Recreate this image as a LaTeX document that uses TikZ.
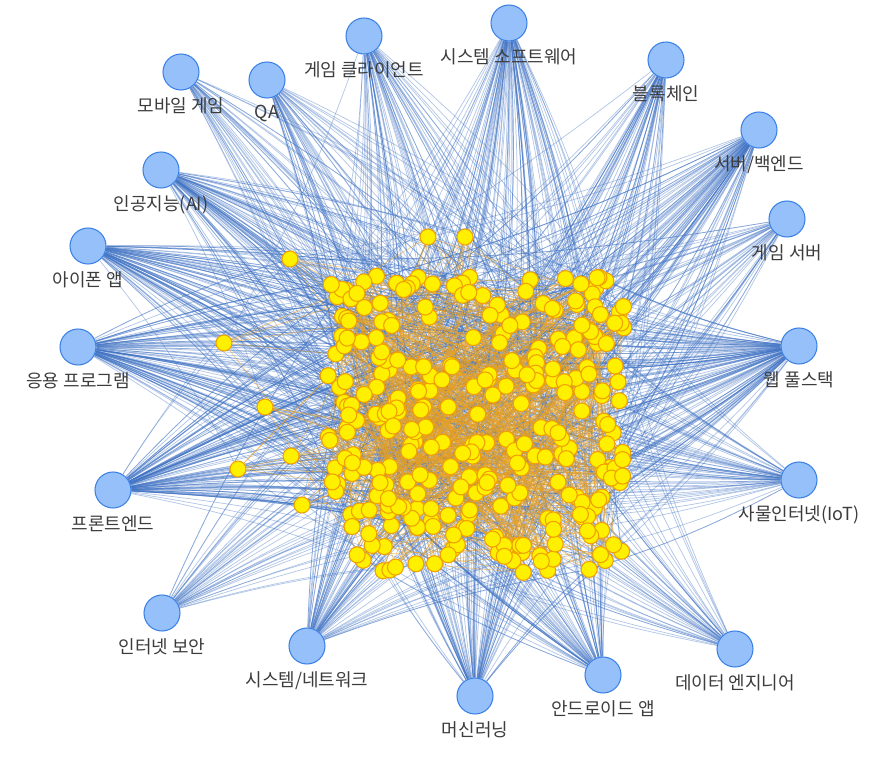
\documentclass[tikz,border=0pt]{standalone}
\usepackage{fontspec}
\setmainfont{Noto Sans CJK KR}
\usetikzlibrary{positioning,backgrounds}

\definecolor{hubfill}{RGB}{150,192,250}
\definecolor{hubdraw}{RGB}{60,130,230}
\definecolor{dotfill}{RGB}{255,240,0}
\definecolor{dotdraw}{RGB}{240,160,0}
\definecolor{hubedge}{RGB}{65,115,195}
\definecolor{dotedge}{RGB}{235,160,30}
\definecolor{labeltext}{RGB}{60,60,60}

\tikzset{
  hub/.style={circle, fill=hubfill, draw=hubdraw, line width=0.8pt, minimum size=27pt, inner sep=0pt},
  dot/.style={circle, fill=dotfill, draw=dotdraw, line width=0.8pt, minimum size=12pt, inner sep=0pt},
  hublabel/.style={text=labeltext, font=\fontsize{13.5}{15}\selectfont, inner sep=1pt},
  hubline/.style={draw=hubedge, opacity=0.4, line width=0.55pt},
  dotline/.style={draw=dotedge, opacity=0.5, line width=0.55pt}
}

\begin{document}
\begin{tikzpicture}[x=0.75pt, y=-0.75pt]
        \useasboundingbox (0,0) rectangle (885,759);
        \pgfmathsetseed{4242}

        % The skill nodes around the rim
        \foreach \n/\px/\py/\t in {mobile/181/72/모바일 게임, qa/267/80/QA,
            client/364/36/게임 클라이언트, syssw/509/23/시스템 소프트웨어,
            chain/666/60/블록체인, server/759/130/{서버/백엔드},
            gamesrv/787/219/게임 서버, web/799/346/웹 풀스택,
            iot/799/480/사물인터넷(IoT), data/735/649/데이터 엔지니어,
            android/603/675/안드로이드 앱, ml/475/696/머신러닝,
            network/307/646/{시스템/네트워크}, security/162/613/인터넷 보안,
            front/113/490/프론트엔드, app/78/347/응용 프로그램,
            iphone/88/246/아이폰 앱, ai/161/170/인공지능(AI)} {
            \node[hub] (\n) at (\px,\py) {};
            \node[hublabel, below=4pt of \n] (\n-t) {\t};
        }

        % The people in the middle
        \foreach \i in {1,...,300} {
            \pgfmathsetmacro\px{328+296*rnd}
            \pgfmathsetmacro\py{276+298*rnd}
            \node[dot] (y\i) at (\px,\py) {};
        }
        \foreach \i/\px/\py in {301/290/259, 302/224/343, 303/265/407, 304/238/469,
            305/291/456, 306/302/505, 307/428/237, 308/465/237} {
            \node[dot] (y\i) at (\px,\py) {};
        }

        % Connect them
        \begin{pgfonlayer}{background}
            \foreach \n/\c in {mobile/35, qa/45, client/60, syssw/95, chain/60,
                server/90, gamesrv/40, web/130, iot/65, data/45, android/75,
                ml/85, network/75, security/40, front/130, app/115, iphone/95, ai/80} {
                \foreach \k in {1,...,\c} {
                    \pgfmathrandominteger\t{1}{308}
                    \draw[hubline] (\n) to[bend left=5] (y\t);
                }
            }
            \foreach \k in {1,...,900} {
                \pgfmathrandominteger\a{1}{308}
                \pgfmathrandominteger\b{1}{308}
                \ifnum\a=\b\else
                    \draw[dotline] (y\a) -- (y\b);
                \fi
            }
        \end{pgfonlayer}
    \end{tikzpicture}
\end{document}
